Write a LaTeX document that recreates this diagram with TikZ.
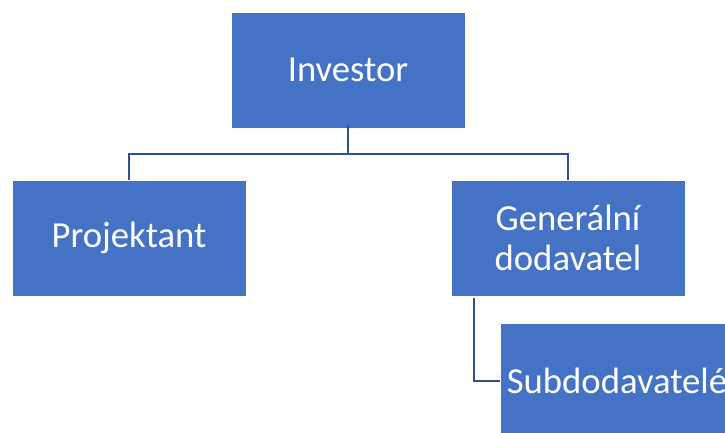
\documentclass[tikz,border=0pt]{standalone}
\usepackage{fontspec}
\setmainfont{Carlito}
\definecolor{boxblue}{HTML}{4472C4}
\definecolor{linkblue}{HTML}{2F528F}
\begin{document}
\begin{tikzpicture}[x=1pt,y=-1pt,
  orgbox/.style={rectangle, fill=boxblue, draw=white, line width=0.6pt,
    minimum width=234pt, minimum height=116pt, inner sep=0pt,
    text=white, align=center, font=\fontsize{36.7}{40}\selectfont},
  link/.style={draw=linkblue, line width=2pt}]
  \useasboundingbox (0,0) rectangle (725,432);
  \clip (0,0) rectangle (725,432);
  \fill[white] (0,0) rectangle (725,432);

  \node[orgbox] (inv)  at (348,70)  {Investor};
  \node[orgbox] (proj) at (129,238) {Projektant};
  \node[orgbox] (gen)  at (568,238) {Generální\\dodavatel};
  \node[orgbox] (sub)  at (617,381) {Subdodavatelé};

  % tree branches below the investor
  \coordinate (bus) at (348,153.5);
  \draw[link] ([yshift=3pt]inv.south) -- (bus) -| (proj.north);
  \draw[link] (bus) -| (gen.north);

  % subcontractor hangs off the general contractor
  \coordinate (subtop) at (473.5,298);
  \draw[link] (subtop) |- (sub.west);
\end{tikzpicture}
\end{document}
